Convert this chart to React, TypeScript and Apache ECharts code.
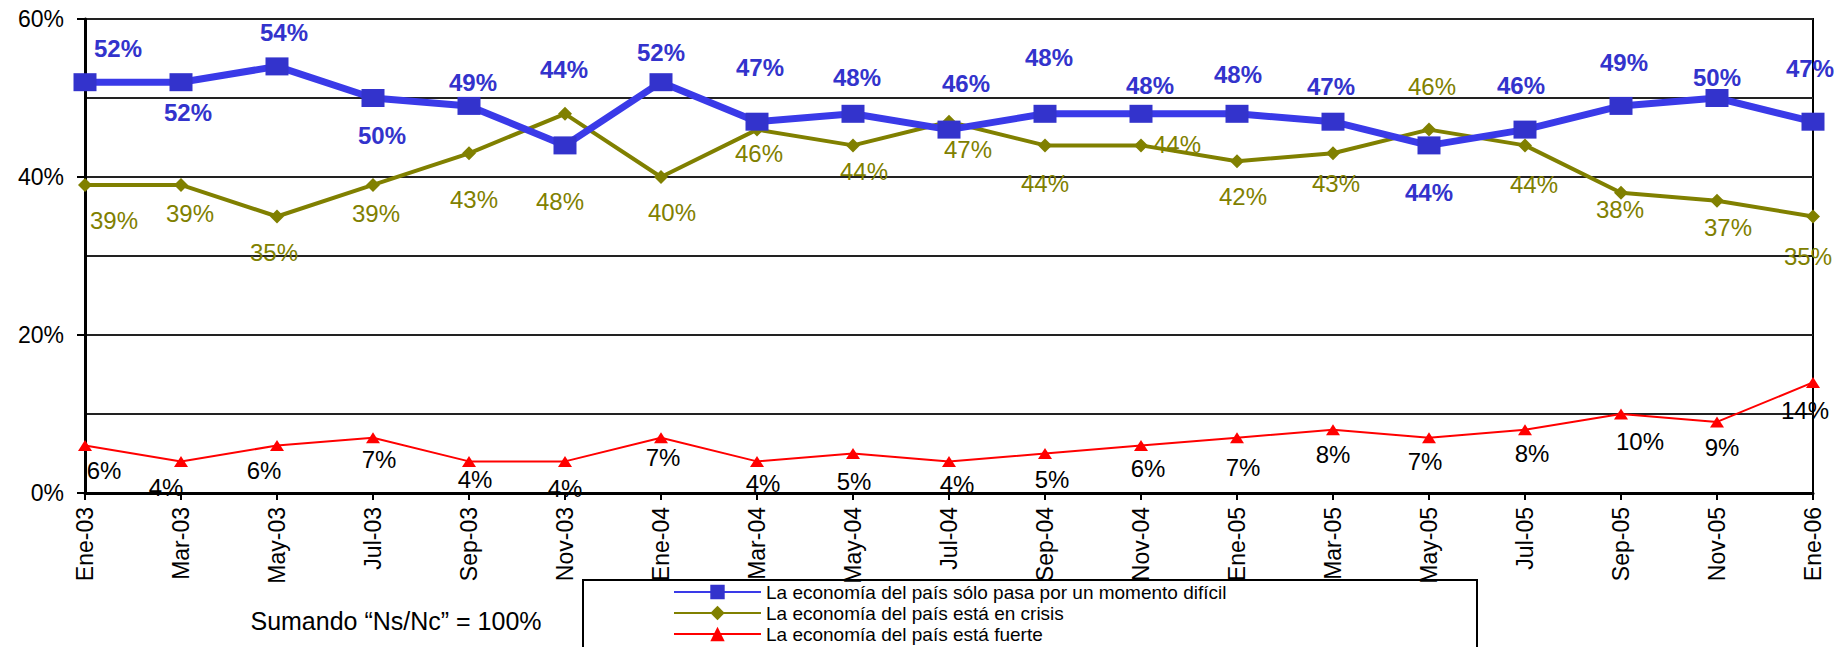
import React, { useEffect, useRef } from 'react';
import * as echarts from 'echarts';

const categories = ['Ene-03', 'Mar-03', 'May-03', 'Jul-03', 'Sep-03', 'Nov-03', 'Ene-04', 'Mar-04', 'May-04', 'Jul-04', 'Sep-04', 'Nov-04', 'Ene-05', 'Mar-05', 'May-05', 'Jul-05', 'Sep-05', 'Nov-05', 'Ene-06'];
const momentoDificil = [52, 52, 54, 50, 49, 44, 52, 47, 48, 46, 48, 48, 48, 47, 44, 46, 49, 50, 47];
const enCrisis = [39, 39, 35, 39, 43, 48, 40, 46, 44, 47, 44, 44, 42, 43, 46, 44, 38, 37, 35];
const fuerte = [6, 4, 6, 7, 4, 4, 7, 4, 5, 4, 5, 6, 7, 8, 7, 8, 10, 9, 14];
const seriesNames = [
  'La economía del país sólo pasa por un momento difícil',
  'La economía del país está en crisis',
  'La economía del país está fuerte',
];
const yMin = 0;
const yMax = 60;
const yLabelStep = 20;
const note = 'Sumando “Ns/Nc” = 100%';

// label placement (layout only, offsets of label centre from the point)
const momentoLabelOffsets = [[33, -34], [7, 30], [7, -34], [9, 37], [4, -23], [-1, -76], [0, -30], [3, -54], [4, -36], [17, -46], [4, -56], [9, -28], [1, -39], [-2, -35], [0, 47], [-4, -44], [3, -43], [0, -21], [-3, -53]];
const crisisLabelOffsets = [[29, 36], [9, 29], [-3, 36], [3, 29], [5, 46], [-5, 88], [11, 35], [2, 24], [11, 26], [19, 28], [0, 38], [36, -1], [6, 35], [3, 30], [3, -43], [9, 39], [-1, 17], [11, 27], [-5, 40]];
const fuerteLabelOffsets = [[19, 25], [-15, 26], [-13, 25], [6, 22], [6, 18], [0, 27], [2, 20], [6, 22], [1, 28], [8, 23], [7, 26], [7, 23], [6, 30], [0, 25], [-4, 24], [7, 24], [19, 27], [5, 26], [-8, 28]];
// legend row centres (layout)
const legendRowCentres = [592, 613, 634];

const FONT = 'Arial, "Liberation Sans", sans-serif';
const LEGEND_FS = 19;

function withOffsets(values: number[], offsets: number[][]) {
  return values.map((v, i) => ({ value: v, label: { offset: offsets[i] } }));
}

export default function App() {
  const ref = useRef<HTMLDivElement>(null);
  useEffect(() => {
    if (!ref.current) return;
    const chart = echarts.init(ref.current, undefined, { renderer: 'svg' });
    const legendItemH = 20;
    chart.setOption({
      animation: false,
      backgroundColor: '#fff',
      textStyle: { fontFamily: FONT },
      grid: { left: 85, right: 21, top: 19, bottom: 154, show: true, borderColor: '#000', borderWidth: 2, containLabel: false },
      xAxis: {
        type: 'category',
        data: categories,
        boundaryGap: false,
        axisLine: { lineStyle: { color: '#000', width: 3 } },
        axisTick: { show: true, length: 7, interval: 0, lineStyle: { color: '#000', width: 2 } },
        axisLabel: { interval: 0, rotate: 90, margin: 14, fontSize: 23, color: '#000', fontFamily: FONT },
        splitLine: { show: false },
      },
      yAxis: {
        type: 'value',
        min: yMin,
        max: yMax,
        interval: yLabelStep,
        axisLine: { show: true, lineStyle: { color: '#000', width: 3 } },
        axisTick: { show: true, length: 8, lineStyle: { color: '#000', width: 2 } },
        axisLabel: { formatter: '{value}%', fontSize: 23, color: '#000', margin: 21, fontFamily: FONT },
        splitLine: { show: true, lineStyle: { color: '#222', width: 2 } },
        minorTick: { show: false, splitNumber: 2 },
        minorSplitLine: { show: true, lineStyle: { color: '#222', width: 2 } },
      },
      legend: seriesNames.map((name, i) => ({
        orient: 'vertical',
        left: 673,
        top: legendRowCentres[i] - legendItemH / 2,
        padding: 0,
        itemWidth: 87,
        itemHeight: 18,
        itemGap: 0,
        data: [name],
        textStyle: { fontSize: LEGEND_FS, lineHeight: legendItemH, color: '#000', fontFamily: FONT },
      })),
      graphic: [
        {
          type: 'rect',
          shape: { x: 583, y: 580, width: 894, height: 90 },
          style: { fill: 'none', stroke: '#000', lineWidth: 2 },
          z: 0,
        },
        {
          type: 'text',
          x: 396,
          y: 621,
          style: { text: note, fontSize: 25, fontFamily: FONT, fill: '#000', textAlign: 'center', textVerticalAlign: 'middle' },
        },
      ],
      series: [
        {
          name: seriesNames[0],
          type: 'line',
          data: withOffsets(momentoDificil, momentoLabelOffsets),
          symbol: 'rect',
          symbolSize: [23, 18],
          clip: false,
          z: 4,
          lineStyle: { color: '#3a3ae8', width: 7 },
          itemStyle: { color: '#3333CC' },
          label: { show: true, position: 'inside', formatter: '{c}%', color: '#3333CC', fontWeight: 'bold', fontSize: 24, fontFamily: FONT },
        },
        {
          name: seriesNames[1],
          type: 'line',
          data: withOffsets(enCrisis, crisisLabelOffsets),
          symbol: 'diamond',
          symbolSize: [14, 14],
          clip: false,
          z: 3,
          lineStyle: { color: '#808000', width: 4 },
          itemStyle: { color: '#808000' },
          label: { show: true, position: 'inside', formatter: '{c}%', color: '#808000', fontSize: 24, fontFamily: FONT },
        },
        {
          name: seriesNames[2],
          type: 'line',
          data: withOffsets(fuerte, fuerteLabelOffsets),
          symbol: 'triangle',
          symbolSize: [14, 11],
          clip: false,
          z: 2,
          lineStyle: { color: '#ff0000', width: 2 },
          itemStyle: { color: '#ff0000' },
          label: { show: true, position: 'inside', formatter: '{c}%', color: '#000', fontSize: 24, fontFamily: FONT },
        },
      ],
    });
    return () => chart.dispose();
  }, []);
  return <div ref={ref} style={{ position: 'fixed', left: 0, top: 0, width: 1834, height: 647 }} />;
}
